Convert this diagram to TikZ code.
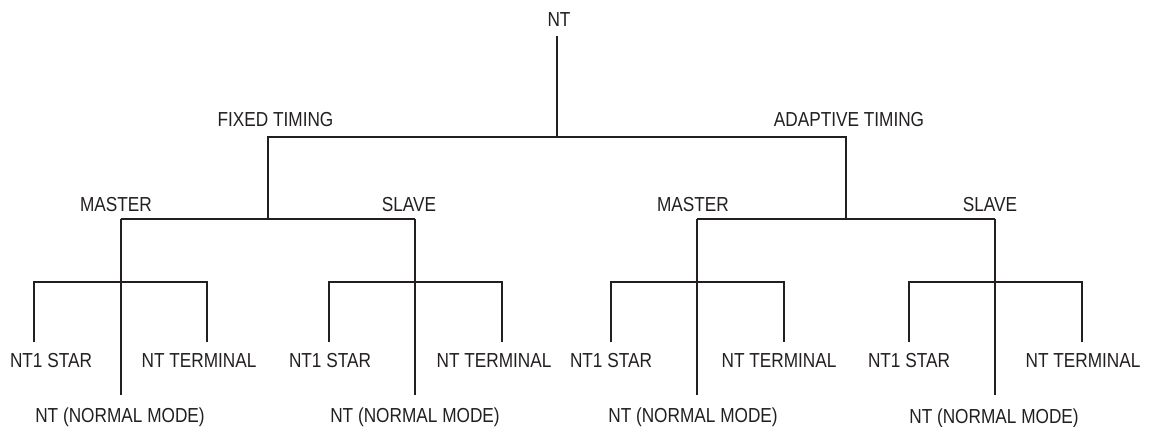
\documentclass[tikz,border=0pt]{standalone}
\usepackage{fontspec}
\setmainfont{Liberation Sans}[FakeStretch=0.85]
\definecolor{ink}{HTML}{231F20}

\begin{document}
\begin{tikzpicture}[x=0.75pt, y=-0.75pt, line width=1.5pt, ink,
    lbl/.style={anchor=base, inner sep=0pt, text=ink, font=\fontsize{15.2}{17}\selectfont}]
    \useasboundingbox (0, 0) rectangle (1152, 427);
    % root and first split
    \node[lbl] (nt) at (559, 27) {NT};
    \node[lbl] (fixed) at (275.5, 127) {FIXED TIMING};
    \node[lbl] (adaptive) at (849, 127) {ADAPTIVE TIMING};
    \coordinate (nttop) at (557, 36);
    \coordinate (ntbar) at (557, 137);
    \coordinate (fixedbar) at (268, 137);
    \coordinate (adaptivebar) at (846, 137);
    \draw (nttop) -- (ntbar);
    % master / slave labels
    \node[lbl] (fmlbl) at (116, 212) {MASTER};
    \node[lbl] (fslbl) at (409, 212) {SLAVE};
    \node[lbl] (amlbl) at (693, 212) {MASTER};
    \node[lbl] (aslbl) at (990, 212) {SLAVE};
    % the four lower branches
    \foreach \t/\mx/\sx/\tx/\nx/\ny in {fm/120.5/51/199/120/422, fs/415/330/494/415/422,
        am/697/611/779/693/422, as/995/909/1083/994/423} {
      \coordinate (\t-top) at (\mx, 219);
      \coordinate (\t-end) at (\mx, 395);
      \coordinate (\t-l) at ({\mx-86.5}, 282);
      \coordinate (\t-r) at ({\mx+86.5}, 282);
      \coordinate (\t-lend) at ({\mx-86.5}, 342);
      \coordinate (\t-rend) at ({\mx+86.5}, 342);
      \node[lbl] (\t-star) at (\sx, 368) {NT1 STAR};
      \node[lbl] (\t-term) at (\tx, 368) {NT TERMINAL};
      \node[lbl] (\t-normal) at (\nx, \ny) {NT (NORMAL MODE)};
      \draw (\t-top) -- (\t-end);
      \draw (\t-lend) -- (\t-l) -- (\t-r) -- (\t-rend);
    }
    \draw (fixedbar |- fm-top) -- (fixedbar) -- (adaptivebar) -- (adaptivebar |- am-top);
    \draw (fm-top) -- (fs-top);
    \draw (am-top) -- (as-top);
  \end{tikzpicture}
\end{document}
